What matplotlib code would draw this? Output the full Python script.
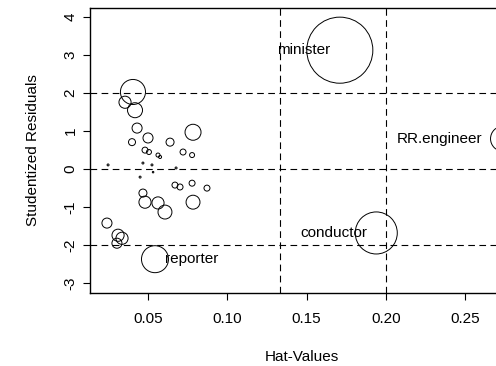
import matplotlib
matplotlib.use("Agg")
import matplotlib.pyplot as plt
import numpy as np

plt.rcParams['font.family'] = ['Liberation Sans', 'DejaVu Sans']

# Influence diagnostics: hat-values, studentized residuals, Cook's distances
hat = [0.0405, 0.0418, 0.0355, 0.0431, 0.0500, 0.0399, 0.0481, 0.0506, 0.0563,
       0.0639, 0.0721, 0.0778, 0.0784, 0.0248, 0.0468, 0.0525, 0.0576, 0.0450,
       0.0532, 0.0677, 0.0468, 0.0670, 0.0702, 0.0778, 0.0872, 0.0481, 0.0563,
       0.0607, 0.0784, 0.0241, 0.0311, 0.0336, 0.0304,
       0.0544, 0.171, 0.194, 0.274]
rstud = [2.03, 1.55, 1.76, 1.08, 0.82, 0.71, 0.50, 0.45, 0.37,
         0.71, 0.45, 0.37, 0.97, 0.11, 0.16, 0.11, 0.32, -0.21,
         -0.08, 0.03, -0.63, -0.42, -0.47, -0.37, -0.50, -0.87, -0.89,
         -1.13, -0.87, -1.42, -1.74, -1.82, -1.95,
         -2.37, 3.13, -1.68, 0.80]
cookd = [0.081, 0.029, 0.019, 0.013, 0.013, 0.0063, 0.0046, 0.0032, 0.0021,
         0.0083, 0.0046, 0.0032, 0.033, 0.0005, 0.0005, 0.0005, 0.0012, 0.0005,
         0.0003, 0.0005, 0.0083, 0.0046, 0.0046, 0.0046, 0.0046, 0.019, 0.019,
         0.025, 0.025, 0.013, 0.019, 0.019, 0.013,
         0.094, 0.563, 0.228, 0.081]

# Labelled occupations (index into the arrays above)
label_names = ["reporter", "minister", "conductor", "RR.engineer"]
label_index = [33, 34, 35, 36]

# Reference lines: 2 and 3 times the mean hat-value, and residual cutoffs
hat_cutoffs = [0.1333, 0.2]
resid_cutoffs = [-2, 0, 2]

xticks = [0.05, 0.10, 0.15, 0.20, 0.25]
xticklabels = ["0.05", "0.10", "0.15", "0.20", "0.25"]
yticks = [-3, -2, -1, 0, 1, 2, 3, 4]

W, H = 496, 366
fig = plt.figure(figsize=(W / 100, H / 100), dpi=100)
ax = fig.add_axes([90 / W, (H - 293) / H, 424 / W, 285 / H])
ax.set_xlim(0.0134, 0.2809)
ax.set_ylim(-3.26, 4.24)

dash = (0, (6, 4))
for y in resid_cutoffs:
    ax.axhline(y, color="black", lw=0.8, linestyle=dash, zorder=1)
for x in hat_cutoffs:
    ax.axvline(x, color="black", lw=0.8, linestyle=dash, zorder=1)

sizes = (63.4 * np.sqrt(np.array(cookd))) ** 2
ax.scatter(hat, rstud, s=sizes, facecolors="none", edgecolors="black",
           linewidths=0.7, zorder=2)

offsets = {"reporter": (7, "left"), "minister": (-7, "right"),
           "conductor": (-6.5, "right"), "RR.engineer": (-15, "right")}
for name, i in zip(label_names, label_index):
    dx, ha = offsets[name]
    ax.annotate(name, (hat[i], rstud[i]), xytext=(dx, 0),
                textcoords="offset points", ha=ha, va="center",
                fontsize=11, zorder=3)

ax.set_xticks(xticks)
ax.set_xticklabels(xticklabels)
ax.set_yticks(yticks)
ax.set_yticklabels([str(v) for v in yticks], rotation=90, va="center")
ax.tick_params(axis="both", direction="out", length=5, width=0.8,
               labelsize=11, color="black")
ax.tick_params(axis="x", pad=9)
ax.tick_params(axis="y", pad=4)
for sp in ax.spines.values():
    sp.set_linewidth(1.0)
    sp.set_color("black")

fig.text(302 / W, 1 - 357 / H, "Hat-Values", ha="center", va="center",
         fontsize=11)
fig.text(33 / W, 1 - 150 / H, "Studentized Residuals", ha="center",
         va="center", rotation=90, fontsize=11)

fig.savefig("out.png", dpi=100)
